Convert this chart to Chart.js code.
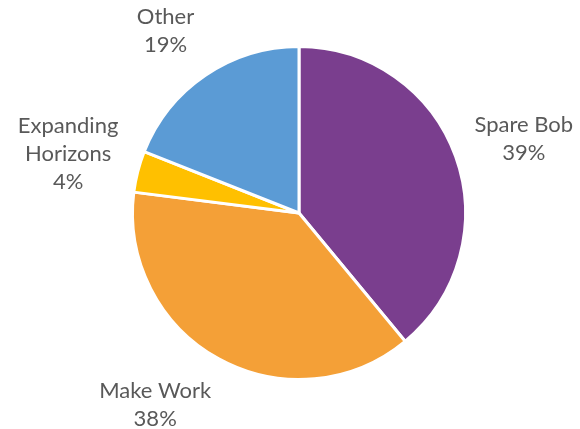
<!DOCTYPE html>
<html lang="en">
<head>
  <meta charset="UTF-8">
  <title>Share by programme</title>
  <script src="https://cdn.jsdelivr.net/npm/chart.js"></script>
  <style>
    html, body { margin: 0; padding: 0; background: #fff; }
    #wrap { width: 580px; height: 429px; position: relative; }
  </style>
</head>
<body>
<div id="wrap"><canvas id="pieChart"></canvas></div>

<script>
  const labels = ['Spare Bob', 'Make Work', ['Expanding', 'Horizons'], 'Other'];
  const shares = [39, 38, 4, 19];
  const colors = ['#7A3E8E', '#F4A037', '#FFC000', '#5B9BD5'];

  // outside labels: name lines plus percentage, pushed out along each slice's mid angle
  const outsideLabels = {
    id: 'outsideLabels',
    afterDatasetsDraw(chart, args, opts) {
      const ctx = chart.ctx;
      const meta = chart.getDatasetMeta(0);
      ctx.save();
      ctx.font = opts.font;
      ctx.fillStyle = opts.color;
      ctx.textAlign = 'center';
      ctx.textBaseline = 'middle';
      meta.data.forEach((arc, i) => {
        const p = arc.getProps(['x', 'y', 'startAngle', 'endAngle', 'outerRadius'], true);
        const mid = (p.startAngle + p.endAngle) / 2;
        const dx = Math.cos(mid), dy = Math.sin(mid);
        const name = [].concat(chart.data.labels[i]);
        const lines = name.concat([chart.data.datasets[0].data[i] + '%']);
        const w = Math.max(...lines.map(l => ctx.measureText(l).width));
        const h = lines.length * opts.lineHeight;
        const clamp = v => Math.max(-1, Math.min(1, v));
        const r = p.outerRadius + opts.gap;
        const cx = p.x + dx * r + clamp(dx * 2) * w / 2;
        const cy = p.y + dy * r + clamp(dy * 1.2) * h / 2;
        lines.forEach((l, j) => {
          ctx.fillText(l, cx, cy - h / 2 + opts.lineHeight * (j + 0.5));
        });
      });
      ctx.restore();
    }
  };

  new Chart(document.getElementById('pieChart'), {
    type: 'pie',
    data: {
      labels: labels,
      datasets: [{
        data: shares,
        backgroundColor: colors,
        borderColor: '#ffffff',
        borderWidth: 3
      }]
    },
    options: {
      responsive: true,
      maintainAspectRatio: false,
      animation: false,
      layout: { padding: { top: 45, bottom: 48, left: 131, right: 113 } },
      plugins: {
        legend: { display: false },
        tooltip: { enabled: false },
        outsideLabels: { font: '22px Lato', color: '#595959', lineHeight: 28, gap: 20 }
      }
    },
    plugins: [outsideLabels]
  });
</script>
</body>
</html>
